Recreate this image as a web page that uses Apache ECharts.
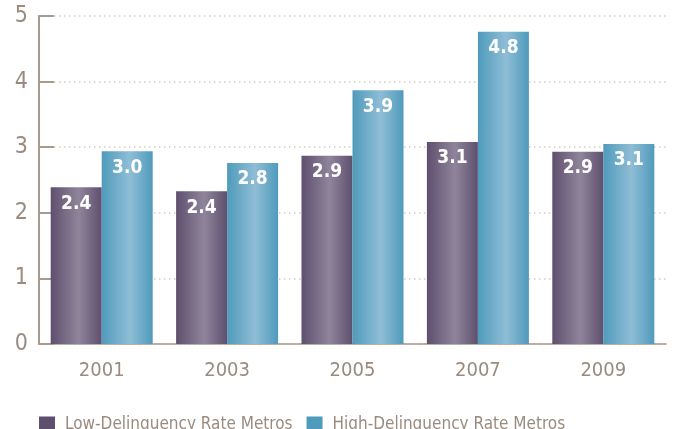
<!DOCTYPE html>
<html>
<head>
<meta charset="utf-8">
<script src="https://cdn.jsdelivr.net/npm/echarts@6/dist/echarts.min.js"></script>
<style>
  html, body { margin: 0; padding: 0; background: #fff; }
  #chart { width: 675px; height: 429px; }
</style>
</head>
<body>
<div id="chart"></div>
<script>
var years = ['2001', '2003', '2005', '2007', '2009']
var lowValues = [2.39, 2.33, 2.87, 3.08, 2.93]
var highValues = [2.94, 2.76, 3.87, 4.76, 3.05]
var lowLabels = ['2.4', '2.4', '2.9', '3.1', '2.9']
var highLabels = ['3.0', '2.8', '3.9', '4.8', '3.1']
var seriesNames = ['Low-Delinquency Rate Metros', 'High-Delinquency Rate Metros']

var axisColor = '#a89a8c'
var textColor = '#9a8b7e'
var fontFamily = '"DejaVu Sans Condensed", "Liberation Sans Narrow", "Roboto", sans-serif'

function barGradient(edge, mid) {
  return new echarts.graphic.LinearGradient(0, 0, 1, 0, [
    { offset: 0, color: edge },
    { offset: 0.55, color: mid },
    { offset: 1, color: edge }
  ])
}

var chart = echarts.init(document.getElementById('chart'))
var option = {
  animation: false,
  textStyle: { fontFamily: fontFamily },
  grid: { left: 39, right: 9, top: 16, bottom: 85 },
  legend: {
    left: 34,
    top: 411,
    itemWidth: 16,
    itemHeight: 16,
    itemGap: 14,
    icon: 'rect',
    textStyle: { color: textColor, fontSize: 17, fontFamily: fontFamily, padding: [0, 0, 0, 5] },
    data: [
      { name: seriesNames[0], itemStyle: { color: '#5f4f6e' } },
      { name: seriesNames[1], itemStyle: { color: '#4f9bbb' } }
    ]
  },
  xAxis: {
    type: 'category',
    data: years,
    axisLine: { lineStyle: { color: axisColor, width: 1.5 } },
    axisTick: { show: false },
    axisLabel: { color: textColor, fontSize: 20, margin: 17, fontFamily: fontFamily }
  },
  yAxis: {
    type: 'value',
    min: 0,
    max: 5,
    interval: 1,
    axisLine: { show: true, lineStyle: { color: axisColor, width: 2 } },
    axisTick: { show: true, inside: true, length: 15, lineStyle: { color: axisColor, width: 2 } },
    axisLabel: { color: textColor, fontSize: 23, margin: 11, fontFamily: fontFamily },
    splitLine: { show: true, lineStyle: { color: '#d6cdc4', type: [1.5, 3.5], width: 1.5 } }
  },
  series: [
    {
      name: seriesNames[0],
      type: 'bar',
      data: lowValues,
      barWidth: 51,
      barGap: 0,
      itemStyle: { color: barGradient('#5f4f6e', '#8f859b') },
      label: {
        show: true,
        position: 'insideTop',
        distance: 7,
        color: '#fff',
        fontWeight: 'bold',
        fontSize: 19,
        fontFamily: fontFamily,
        formatter: function (p) { return lowLabels[p.dataIndex] }
      }
    },
    {
      name: seriesNames[1],
      type: 'bar',
      data: highValues,
      barWidth: 51,
      barGap: 0,
      itemStyle: { color: barGradient('#4f9bbb', '#8fbdd6') },
      label: {
        show: true,
        position: 'insideTop',
        distance: 7,
        color: '#fff',
        fontWeight: 'bold',
        fontSize: 19,
        fontFamily: fontFamily,
        formatter: function (p) { return highLabels[p.dataIndex] }
      }
    }
  ]
}
chart.setOption(option)
</script>
</body>
</html>
